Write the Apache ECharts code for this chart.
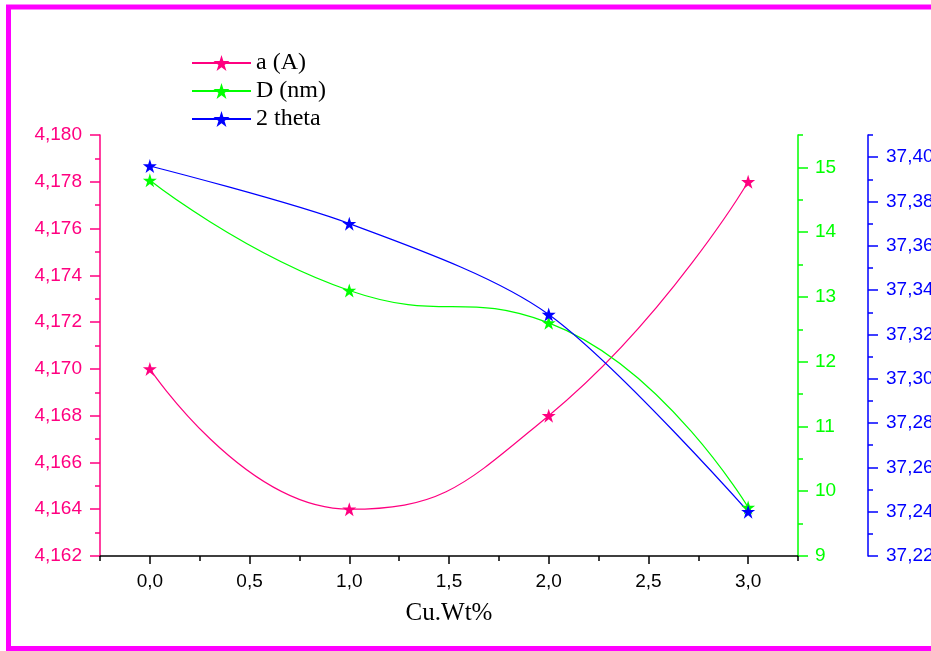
<!DOCTYPE html>
<html>
<head>
<meta charset="utf-8">
<script src="https://cdn.jsdelivr.net/npm/echarts@6/dist/echarts.min.js"></script>
<style>
  html, body { margin: 0; padding: 0; background: #fff; }
  #chart { width: 931px; height: 651px; }
</style>
</head>
<body>
<div id="chart"></div>
<script>
// Cu content (wt%) on the x axis
const cuContent = [0, 1, 2, 3];
// Lattice parameter a (Å)
const latticeA = [4.170, 4.164, 4.168, 4.178];
// Crystallite size D (nm)
const crystalliteD = [14.8, 13.1, 12.6, 9.75];
// Peak position 2θ (deg)
const twoTheta = [37.396, 37.370, 37.329, 37.240];

// Tick positions
const xMajorTicks = [0, 0.5, 1, 1.5, 2, 2.5, 3];
const xMinorTicks = [-0.25, 0.25, 0.75, 1.25, 1.75, 2.25, 2.75, 3.25];
const aMajorTicks = [4.162, 4.164, 4.166, 4.168, 4.170, 4.172, 4.174, 4.176, 4.178, 4.180];
const aMinorTicks = [4.163, 4.165, 4.167, 4.169, 4.171, 4.173, 4.175, 4.177, 4.179];
const dMajorTicks = [9, 10, 11, 12, 13, 14, 15];
const dMinorTicks = [9.5, 10.5, 11.5, 12.5, 13.5, 14.5, 15.5];
const thetaMajorTicks = [37.22, 37.24, 37.26, 37.28, 37.30, 37.32, 37.34, 37.36, 37.38, 37.40];
const thetaMinorTicks = [37.23, 37.25, 37.27, 37.29, 37.31, 37.33, 37.35, 37.37, 37.39, 37.41];

const PINK = '#ff0080';
const GREEN = '#00ff00';
const BLUE = '#0000ff';
const STAR = 'path://M50,0 L61.2,34.5 L97.6,34.5 L68.2,55.9 L79.4,90.5 L50,69.1 L20.6,90.5 L31.8,55.9 L2.4,34.5 L38.8,34.5 Z';
const TICK_FONT = 'Liberation Sans';

const comma = (d) => (v) => Number(v).toFixed(d).replace('.', ',');
const pairs = (ys) => cuContent.map((x, i) => [x, ys[i]]);

function majorY(color, pos, offset, min, max, ticks, digits, margin) {
  return {
    type: 'value', position: pos, offset: offset, min: min, max: max,
    splitLine: { show: false },
    axisLine: { show: true, onZero: false, lineStyle: { color: color, width: 1.5 } },
    axisTick: { show: true, length: 10, customValues: ticks, lineStyle: { color: color, width: 1.5 } },
    axisLabel: { customValues: ticks, formatter: comma(digits), color: color,
                 fontFamily: TICK_FONT, fontSize: 19, margin: margin }
  };
}
function minorY(color, pos, offset, min, max, ticks) {
  return {
    type: 'value', position: pos, offset: offset, min: min, max: max,
    splitLine: { show: false },
    axisLine: { show: false, onZero: false },
    axisTick: { show: true, length: 5, customValues: ticks, lineStyle: { color: color, width: 1.5 } },
    axisLabel: { show: false }
  };
}

const chart = echarts.init(document.getElementById('chart'), null, { renderer: 'canvas' });
chart.setOption({
  animation: false,
  backgroundColor: '#ffffff',
  grid: { left: 100, right: 133, top: 135, bottom: 95, containLabel: false, outerBoundsMode: 'none' },
  legend: {
    orient: 'vertical', left: 186, top: 46,
    itemWidth: 59, itemHeight: 20, itemGap: 4,
    textStyle: { fontFamily: 'Liberation Serif', fontSize: 24, color: '#000', lineHeight: 24 },
    data: ['a (A)', 'D (nm)', '2 theta']
  },
  xAxis: [
    {
      type: 'value', min: -0.25, max: 3.25, position: 'bottom',
      name: 'Cu.Wt%', nameLocation: 'middle', nameGap: 45,
      nameTextStyle: { fontFamily: 'Liberation Serif', fontSize: 25, color: '#000' },
      splitLine: { show: false },
      axisLine: { onZero: false, lineStyle: { color: '#000', width: 1.5 } },
      axisTick: { length: 8, customValues: xMajorTicks, lineStyle: { color: '#000', width: 1.5 } },
      axisLabel: { customValues: xMajorTicks, formatter: comma(1), color: '#000',
                   fontFamily: TICK_FONT, fontSize: 19, margin: 16 }
    },
    {
      type: 'value', min: -0.25, max: 3.25, position: 'bottom',
      splitLine: { show: false },
      axisLine: { show: false, onZero: false },
      axisTick: { length: 5, customValues: xMinorTicks, lineStyle: { color: '#000', width: 1.5 } },
      axisLabel: { show: false }
    }
  ],
  yAxis: [
    majorY(PINK, 'left', 0, 4.162, 4.180, aMajorTicks, 3, 18),
    majorY(GREEN, 'right', 0, 9, 15.5, dMajorTicks, 0, 17),
    majorY(BLUE, 'right', 70, 37.22, 37.41, thetaMajorTicks, 2, 18),
    minorY(PINK, 'left', 0, 4.162, 4.180, aMinorTicks),
    minorY(GREEN, 'right', 0, 9, 15.5, dMinorTicks),
    minorY(BLUE, 'right', 70, 37.22, 37.41, thetaMinorTicks)
  ],
  series: [
    {
      name: 'a (A)', type: 'line', yAxisIndex: 0, smooth: 0.5,
      data: pairs(latticeA), symbol: STAR, symbolSize: 14,
      itemStyle: { color: PINK }, lineStyle: { color: PINK, width: 1.2 }
    },
    {
      name: 'D (nm)', type: 'line', yAxisIndex: 1, smooth: 0.5,
      data: pairs(crystalliteD), symbol: STAR, symbolSize: 14,
      itemStyle: { color: GREEN }, lineStyle: { color: GREEN, width: 1.2 }
    },
    {
      name: '2 theta', type: 'line', yAxisIndex: 2, smooth: 0.3,
      data: pairs(twoTheta), symbol: STAR, symbolSize: 14,
      itemStyle: { color: BLUE }, lineStyle: { color: BLUE, width: 1.2 }
    }
  ],
  graphic: [
    {
      type: 'rect', silent: true, z: 100,
      shape: { x: 8.5, y: 7, width: 1000, height: 641.5 },
      style: { fill: 'none', stroke: '#ff00ff', lineWidth: 5 }
    }
  ]
});
</script>
</body>
</html>
